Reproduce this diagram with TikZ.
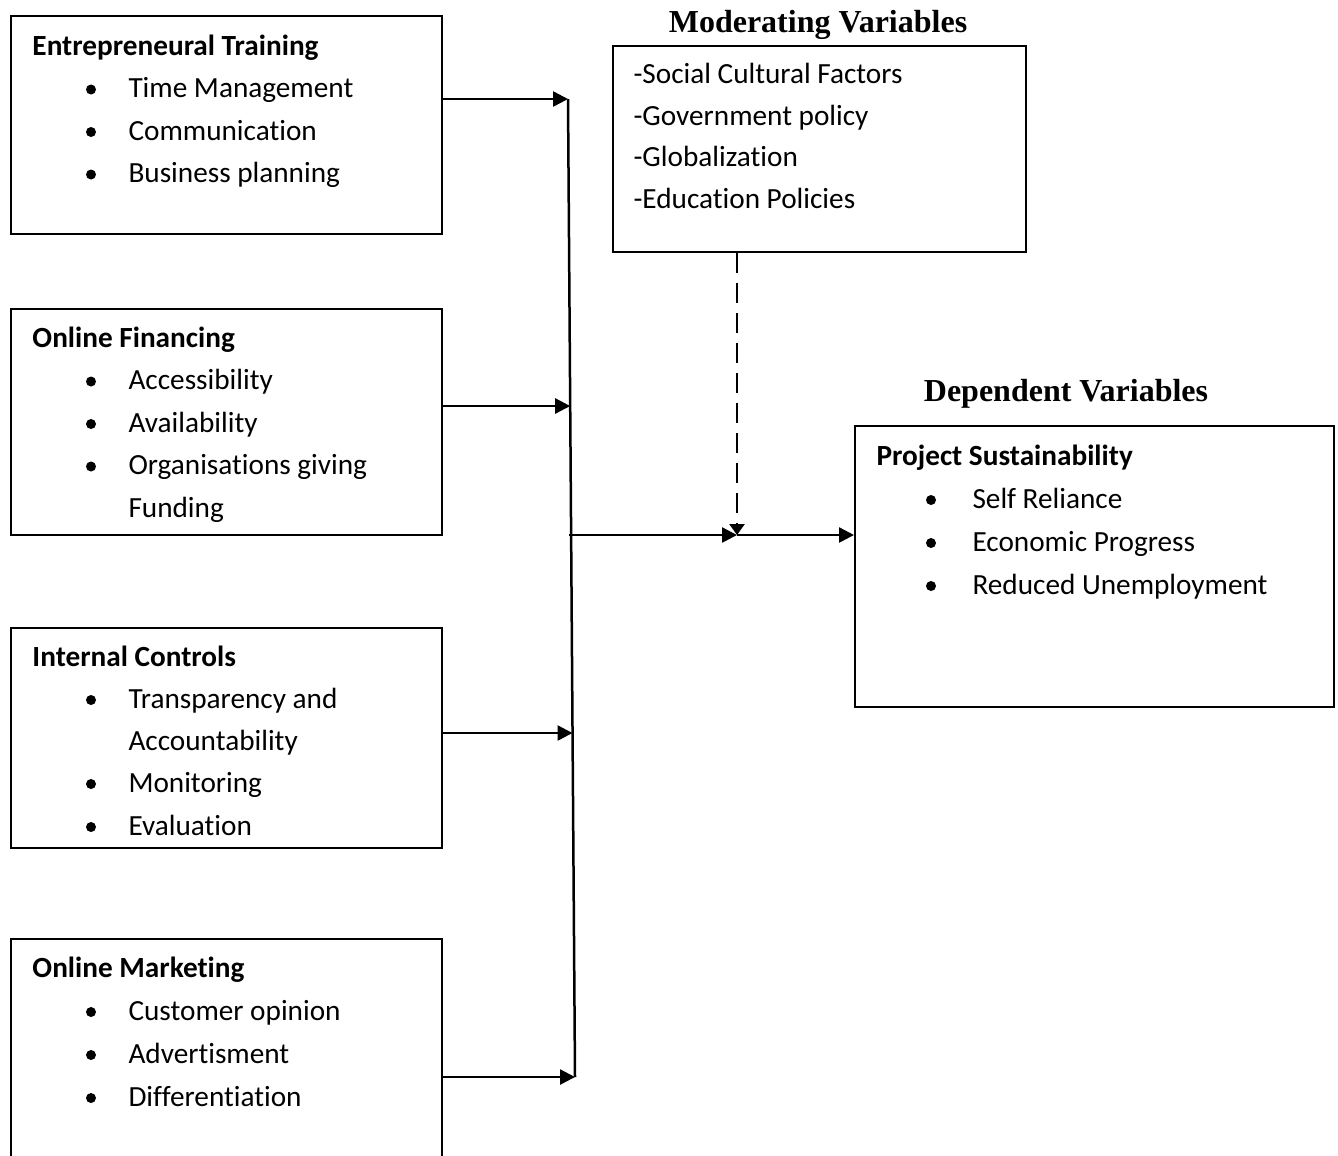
\documentclass[tikz,border=0pt]{standalone}
\usepackage{fontspec}
\setmainfont{Carlito}[Ligatures=NoCommon]
\newfontfamily\headfont{Liberation Serif}
\usetikzlibrary{arrows.meta,fit}

\begin{document}
\begin{tikzpicture}[x=0.4pt,y=-0.4pt,
	box/.style={draw,line width=0.8pt,inner sep=0pt},
	ttl/.style={anchor=base west,inner sep=0pt,font=\fontsize{11.7}{14}\selectfont\bfseries},
	itm/.style={anchor=base west,inner sep=0pt,font=\fontsize{11.7}{14}\selectfont},
	head/.style={anchor=base,inner sep=0pt,font=\fontsize{12.8}{15}\headfont\bfseries},
	bus/.style={line width=1pt},
	arr/.style={line width=1pt,-{Triangle[length=6pt,width=6pt]}},
	dasharr/.style={line width=1pt,dash pattern=on 8pt off 4pt,-{Triangle[length=4.4pt,width=6pt]}}]
	\useasboundingbox (0,0) rectangle (1338,1155);
	\clip (0,0) rectangle (1338,1155);

	% independent variables
	\node[box,fit={(11,16) (442,234)}] (et) {};
	\node[ttl] (ett) at (32,55) {Entrepreneural Training};
	\foreach \t [count=\i] in {Time Management,Communication,Business planning}{
		\fill (91,{55+42.5*\i-8}) circle (2pt);
		\node[itm] (et\i) at (128,{55+42.5*\i}) {\t};
	}

	\node[box,fit={(11,309) (442,535)}] (of) {};
	\node[ttl] (oft) at (32,347) {Online Financing};
	\foreach \t [count=\i] in {Accessibility,Availability,Organisations giving}{
		\fill (91,{347+42.5*\i-8}) circle (2pt);
		\node[itm] (of\i) at (128,{347+42.5*\i}) {\t};
	}
	\node[itm] (of4) at (128,517) {Funding};

	\node[box,fit={(11,628) (442,848)}] (ic) {};
	\node[ttl] (ict) at (32,666) {Internal Controls};
	\foreach \y in {708,792,835}
		\fill (91,{\y-8}) circle (2pt);
	\node[itm] (ic1) at (128,708) {Transparency and};
	\node[itm] (ic2) at (128,750) {Accountability};
	\node[itm] (ic3) at (128,792) {Monitoring};
	\node[itm] (ic4) at (128,835) {Evaluation};

	\node[box,fit={(11,939) (442,1165)}] (om) {};
	\node[ttl] (omt) at (32,977) {Online Marketing};
	\foreach \t [count=\i] in {Customer opinion,Advertisment,Differentiation}{
		\fill (91,{977+43*\i-8}) circle (2pt);
		\node[itm] (om\i) at (128,{977+43*\i}) {\t};
	}

	% moderating variables
	\node[head] (mvh) at (818,32) {Moderating Variables};
	\node[box,fit={(613,46) (1026,252)}] (mv) {};
	\foreach \t [count=\i] in {-Social Cultural Factors,-Government policy,-Globalization,-Education Policies}
		\node[itm] (mv\i) at (633,{42.2+41.5*\i}) {\t};

	% dependent variables
	\node[head] (dvh) at (1066,401) {Dependent Variables};
	\node[box,fit={(855,426) (1334,707)}] (ds) {};
	\node[ttl] (dst) at (876,465) {Project Sustainability};
	\foreach \t [count=\i] in {Self Reliance,Economic Progress,Reduced Unemployment}{
		\fill (931,{465+43*\i-8}) circle (2pt);
		\node[itm] (ds\i) at (972,{465+43*\i}) {\t};
	}

	% connectors
	\coordinate (b1) at (568,99);
	\coordinate (b2) at (570.2,406);
	\coordinate (b3) at (572.5,733);
	\coordinate (b4) at (575,1077);
	\coordinate (bm) at (569.4,535);
	\coordinate (jn) at (737,535);
	\draw[bus] (b1) -- (b4);
	\draw[arr] (b1 -| et.east) -- (b1);
	\draw[arr] (b2 -| of.east) -- (b2);
	\draw[arr] (b3 -| ic.east) -- (b3);
	\draw[arr] (b4 -| om.east) -- (b4);
	\draw[arr] (bm) -- (jn);
	\draw[arr] (jn) -- (jn -| ds.west);
	\draw[dasharr] (jn |- mv.south) -- (jn);
\end{tikzpicture}
\end{document}
